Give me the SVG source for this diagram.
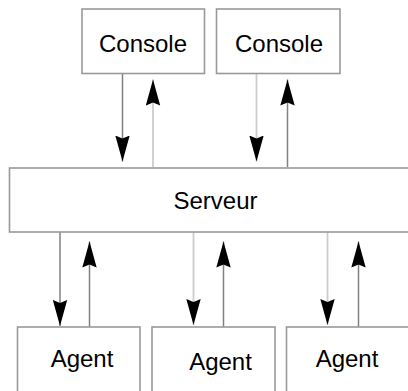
<svg xmlns="http://www.w3.org/2000/svg" width="408" height="391" viewBox="0 0 408 391">
  <style>
    .box { fill: #ffffff; stroke: #999999; stroke-width: 1.6; }
    .label { font-family: "Liberation Sans", Arial, sans-serif; font-size: 24px; fill: #000000; text-anchor: middle; }
    .dark { stroke: #808080; stroke-width: 1.5; fill: none; }
    .light { stroke: #cccccc; stroke-width: 1.8; fill: none; }
  </style>
  <defs>
    <!-- notched solid arrowhead, tip at (0,0) pointing along +x -->
    <marker id="head" viewBox="-26 -7.5 27 15" refX="0" refY="0" markerWidth="27" markerHeight="15" markerUnits="userSpaceOnUse" orient="auto">
      <path d="M0,0 L-26,-7.2 L-23,0 L-26,7.2 Z" fill="#000000"/>
    </marker>
  </defs>
  <rect width="408" height="391" fill="#ffffff"/>

  <g id="connectors">
    <!-- console 1 <-> server -->
    <line class="dark" x1="122.5" y1="74" x2="122.5" y2="161.5" marker-end="url(#head)"/>
    <line class="light" x1="153" y1="167" x2="153" y2="79.5" marker-end="url(#head)"/>
    <!-- console 2 <-> server -->
    <line class="light" x1="256.5" y1="74" x2="256.5" y2="161.5" marker-end="url(#head)"/>
    <line class="dark" x1="287.5" y1="167" x2="287.5" y2="79.5" marker-end="url(#head)"/>
    <!-- server <-> agent 1 -->
    <line class="dark" x1="60" y1="232" x2="60" y2="326" marker-end="url(#head)"/>
    <line class="dark" x1="89.5" y1="327" x2="89.5" y2="241.5" marker-end="url(#head)"/>
    <!-- server <-> agent 2 -->
    <line class="light" x1="193.5" y1="232" x2="193.5" y2="325" marker-end="url(#head)"/>
    <line class="dark" x1="223.5" y1="327" x2="223.5" y2="241.5" marker-end="url(#head)"/>
    <!-- server <-> agent 3 -->
    <line class="light" x1="327.5" y1="232" x2="327.5" y2="325" marker-end="url(#head)"/>
    <line class="dark" x1="358.5" y1="327" x2="358.5" y2="241.5" marker-end="url(#head)"/>
  </g>

  <g id="console1">
    <rect class="box" x="82" y="9" width="122.5" height="64.5"/>
    <text class="label" x="143" y="51.5">Console</text>
  </g>
  <g id="console2">
    <rect class="box" x="216.5" y="9" width="123.5" height="64.5"/>
    <text class="label" x="279" y="51.5">Console</text>
  </g>

  <g id="serveur">
    <rect class="box" x="9.5" y="168" width="402" height="64"/>
    <text class="label" x="215.5" y="208.5">Serveur</text>
  </g>

  <g id="agent1">
    <rect class="box" x="17.5" y="327" width="122.5" height="70"/>
    <text class="label" x="82" y="366.5">Agent</text>
  </g>
  <g id="agent2">
    <rect class="box" x="152" y="327" width="123" height="70"/>
    <text class="label" x="220.5" y="370">Agent</text>
  </g>
  <g id="agent3">
    <rect class="box" x="286.5" y="327" width="124" height="70"/>
    <text class="label" x="347" y="366.5">Agent</text>
  </g>
</svg>
